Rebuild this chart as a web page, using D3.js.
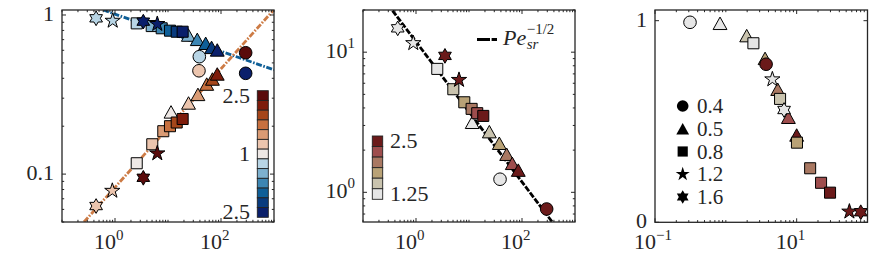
<!DOCTYPE html>
<html>
<head>
<meta charset="utf-8">
<script src="https://cdn.jsdelivr.net/npm/d3@7"></script>
<style>
  body { margin: 0; background: #fff; }
</style>
</head>
<body>
<svg id="fig" width="886" height="266"></svg>
<script>

// ---- data ----
// shape code = legend value (0.4 circle, 0.5 triangle, 0.8 square, 1.2 star, 1.6 hexagram)
// level = colour-bar step

// left panel, upper (blue) set
var leftBlueX     = [24.2, 35.7, 51.4, 66.4, 85, 39, 292, 2.57, 4.93, 7.6, 10.9, 14.6, 18.9, 0.905, 6.28, 0.44, 3.42];
var leftBlueY     = [0.748, 0.703, 0.664, 0.626, 0.603, 0.547, 0.43, 0.886, 0.852, 0.825, 0.797, 0.785, 0.785, 0.92, 0.878, 0.953, 0.908];
var leftBlueShape = [0.5, 0.5, 0.5, 0.5, 0.5, 0.4, 0.4, 0.8, 0.8, 0.8, 0.8, 0.8, 0.8, 1.2, 1.2, 1.6, 1.6];
var leftBlueLevel = [2, 3, 4, 5, 6, 1, 6, 1, 2, 3, 4, 5, 6, 1, 6, 1, 6];

// left panel, lower (orange) set
var leftOrangeX     = [11.4, 24.4, 36.7, 53.8, 68.9, 85, 38.4, 292, 2.57, 5.05, 8.15, 10.9, 14.6, 18.9, 0.89, 6.28, 0.44, 3.42];
var leftOrangeY     = [0.246, 0.28, 0.317, 0.368, 0.396, 0.426, 0.446, 0.579, 0.117, 0.154, 0.186, 0.2, 0.211, 0.222, 0.0785, 0.135, 0.063, 0.0948];
var leftOrangeShape = [0.5, 0.5, 0.5, 0.5, 0.5, 0.5, 0.4, 0.4, 0.8, 0.8, 0.8, 0.8, 0.8, 0.8, 1.2, 1.2, 1.6, 1.6];
var leftOrangeLevel = [0, 1, 2, 3, 4, 5, 1, 6, 0, 1, 2, 3, 4, 5, 1, 6, 1, 6];

// fitted lines in the left panel (end points)
var blueFitX = [0.6, 1000];
var blueFitY = [1.075, 0.452];
var orangeFitX = [0.26, 1000];
var orangeFitY = [0.05, 1.082];

// left colour bar: top to bottom
var leftBarSide  = ["o", "o", "o", "o", "o", "o", "o", "b", "b", "b", "b", "b", "b"];
var leftBarLevel = [6, 5, 4, 3, 2, 1, 0, 1, 2, 3, 4, 5, 6];
var leftBarLabels = ["2.5", "1", "2.5"];
var leftBarLabelCell = [0, 6, 12];

// middle panel
var midX     = [11.5, 24.2, 37.3, 51.4, 65.6, 85.1, 38.5, 292, 2.52, 5.06, 8.15, 11.2, 14.3, 18.6, 0.889, 6.48, 0.452, 3.52];
var midY     = [3.16, 2.71, 2.24, 1.87, 1.61, 1.44, 1.24, 0.76, 7.6, 5.44, 4.39, 3.94, 3.67, 3.51, 11.6, 6.34, 14.8, 9.41];
var midShape = [0.5, 0.5, 0.5, 0.5, 0.5, 0.5, 0.4, 0.4, 0.8, 0.8, 0.8, 0.8, 0.8, 0.8, 1.2, 1.2, 1.6, 1.6];
var midLevel = [0, 1, 2, 3, 4, 5, 0, 5, 0, 1, 2, 3, 4, 5, 0, 5, 0, 5];

// Pe^-1/2 line (end points)
var peLineX = [0.36, 390];
var peLineY = [19.8, 0.6];

var midBarLevel = [5, 4, 3, 2, 1, 0];
var midBarLabels = ["2.5", "1.25"];
var midBarLabelCell = [0, 5];

// right panel
var rightX     = [0.828, 1.97, 3.58, 5.40, 7.64, 10.0, 0.312, 3.70, 2.45, 5.83, 10.1, 15.5, 22.1, 29.6, 4.54, 55.5, 6.64, 80.3];
var rightY     = [0.987, 0.926, 0.813, 0.66, 0.521, 0.433, 0.992, 0.784, 0.888, 0.612, 0.395, 0.268, 0.196, 0.147, 0.709, 0.053, 0.557, 0.05];
var rightShape = [0.5, 0.5, 0.5, 0.5, 0.5, 0.5, 0.4, 0.4, 0.8, 0.8, 0.8, 0.8, 0.8, 0.8, 1.2, 1.2, 1.6, 1.6];
var rightLevel = [0, 1, 2, 3, 4, 5, 0, 5, 0, 1, 2, 3, 4, 5, 0, 5, 0, 5];

var legendValues = [0.4, 0.5, 0.8, 1.2, 1.6];
var legendLabels = ["0.4", "0.5", "0.8", "1.2", "1.6"];

// ---- styles ----
var blues   = ["#eee8e5", "#b8d5e5", "#7db1cf", "#3d86b3", "#0f5f98", "#093b7e", "#0a1f6b"];
var oranges = ["#eee8e5", "#ecc5ae", "#da9b74", "#c7703f", "#a5461a", "#7e1c0b", "#5a0b0b"];
var browns  = ["#e6e6e6", "#c9c3ae", "#b9a276", "#a97862", "#9e4d4d", "#6b1a1a"];

var axisColor = "#262626";
var serif = "Liberation Serif";

var triangleUp = {
  draw: function (ctx, size) {
    var r = Math.sqrt(size);
    ctx.moveTo(0, -r * 0.9);
    ctx.lineTo(r, r * 0.9);
    ctx.lineTo(-r, r * 0.9);
    ctx.closePath();
  }
};
var hexagram = {
  draw: function (ctx, size) {
    var r = Math.sqrt(size), ri = r / Math.sqrt(3);
    for (var i = 0; i < 12; i++) {
      var a = Math.PI / 6 * i - Math.PI / 2;
      var rr = (i % 2) ? ri : r;
      if (i === 0) ctx.moveTo(rr * Math.cos(a), rr * Math.sin(a));
      else ctx.lineTo(rr * Math.cos(a), rr * Math.sin(a));
    }
    ctx.closePath();
  }
};

var shapeType = d3.scaleOrdinal().domain(legendValues)
  .range([d3.symbolCircle, triangleUp, d3.symbolSquare, d3.symbolStar, hexagram]);
var shapeSize = d3.scaleOrdinal().domain(legendValues)
  .range([125, 48, 122, 72, 54]);

function symbolPath(shape, scale) {
  return d3.symbol().type(shapeType(shape)).size(shapeSize(shape) * (scale || 1))();
}

var svg = d3.select("#fig");

function label(g, x, y, size, s) {
  var t = g.append("text").attr("x", x).attr("y", y)
    .attr("font-family", serif).attr("font-size", size).attr("fill", axisColor);
  if (s !== null) t.text(s);
  return t;
}

/*
 * box axes with inward ticks on all four sides
 */
function drawAxes(g, x, y, xMajor, yMajor, xLog, yLog, yText) {
  var x0 = x.range()[0], x1 = x.range()[1];
  var y0 = y.range()[0], y1 = y.range()[1];
  var major = 4, minor = 2.2;

  var xMinor = xLog ? x.ticks().filter(function (v) { return xMajor.indexOf(v) < 0; }) : [];
  var yMinor = yLog ? y.ticks().filter(function (v) { return yMajor.indexOf(v) < 0; }) : [];

  var tk = g.append("g").attr("stroke", axisColor).attr("stroke-width", 1);

  function xTick(v, len) {
    var px = x(v);
    tk.append("line").attr("x1", px).attr("x2", px).attr("y1", y0).attr("y2", y0 - len);
    tk.append("line").attr("x1", px).attr("x2", px).attr("y1", y1).attr("y2", y1 + len);
  }
  function yTick(v, len) {
    var py = y(v);
    tk.append("line").attr("y1", py).attr("y2", py).attr("x1", x0).attr("x2", x0 + len);
    tk.append("line").attr("y1", py).attr("y2", py).attr("x1", x1).attr("x2", x1 - len);
  }
  xMinor.forEach(function (v) { xTick(v, minor); });
  yMinor.forEach(function (v) { yTick(v, minor); });
  xMajor.forEach(function (v) { xTick(v, major); });
  yMajor.forEach(function (v) { yTick(v, major); });

  g.append("rect")
    .attr("x", x0).attr("y", y1)
    .attr("width", x1 - x0).attr("height", y0 - y1)
    .attr("fill", "none").attr("stroke", axisColor).attr("stroke-width", 1.3);

  // x labels: 10^k
  xMajor.forEach(function (v) {
    var e = Math.round(Math.log10(v));
    label(g, x(v) + 1, 249, 22, "10").attr("text-anchor", "end");
    label(g, x(v) + 1, 240, 15, String(e).replace("-", "\u2212"));
  });

  // y labels
  yMajor.forEach(function (v, i) {
    var t = label(g, x0 - 8, y(v) + 6, 22, null).attr("text-anchor", "end");
    if (yText) {
      t.text(yText[i]);
    } else {
      var e = Math.round(Math.log10(v));
      t.append("tspan").text("10");
      t.append("tspan").attr("dy", -10).attr("font-size", 15).text(String(e).replace("-", "\u2212"));
    }
  });
}

function clip(id, x, y) {
  svg.append("clipPath").attr("id", id).append("rect")
    .attr("x", x.range()[0]).attr("y", y.range()[1])
    .attr("width", x.range()[1] - x.range()[0])
    .attr("height", y.range()[0] - y.range()[1]);
}

function drawMarkers(g, x, y, xs, ys, shapes, levels, pal) {
  g.selectAll(null).data(xs).enter().append("path")
    .attr("transform", function (d, i) { return "translate(" + x(d) + "," + y(ys[i]) + ")"; })
    .attr("d", function (d, i) { return symbolPath(shapes[i]); })
    .attr("fill", function (d, i) { return pal[levels[i]]; })
    .attr("stroke", "#000").attr("stroke-width", 1);
}

function drawLine(g, x, y, xs, ys, color, dash, clipId) {
  var line = d3.line().x(function (d) { return x(d); }).y(function (d, i) { return y(ys[i]); });
  g.append("path").datum(xs)
    .attr("d", line)
    .attr("fill", "none").attr("stroke", color).attr("stroke-width", 2.8)
    .attr("stroke-dasharray", dash)
    .attr("clip-path", "url(#" + clipId + ")");
}

// ---------------- left panel ----------------
var xL = d3.scaleLog().domain([0.1, 1000]).range([62, 274]);
var yL = d3.scaleLog().domain([0.05, 1.075]).range([222, 10]);
var gL = svg.append("g");
clip("clipL", xL, yL);

drawLine(gL, xL, yL, blueFitX, blueFitY, "#0e5e96", "6,1.6,1.6,1.6", "clipL");
drawLine(gL, xL, yL, orangeFitX, orangeFitY, "#cd7b45", "6,1.6,1.6,1.6", "clipL");
drawMarkers(gL, xL, yL, leftBlueX, leftBlueY, leftBlueShape, leftBlueLevel, blues);
drawMarkers(gL, xL, yL, leftOrangeX, leftOrangeY, leftOrangeShape, leftOrangeLevel, oranges);

// colour bar
var barL = d3.scaleBand().domain(d3.range(leftBarLevel.length)).range([90.7, 217.3]);
gL.selectAll(null).data(leftBarLevel).enter().append("rect")
  .attr("x", 257.3).attr("width", 11)
  .attr("y", function (d, i) { return barL(i); })
  .attr("height", barL.bandwidth())
  .attr("fill", function (d, i) { return leftBarSide[i] === "o" ? oranges[d] : blues[d]; })
  .attr("stroke", "#222").attr("stroke-width", 0.9);
leftBarLabels.forEach(function (s, i) {
  label(gL, 250, barL(leftBarLabelCell[i]) + barL.bandwidth() / 2 + 7, 22, s).attr("text-anchor", "end");
});

drawAxes(gL, xL, yL, [1, 100], [0.1, 1], true, true, ["0.1", "1"]);

// ---------------- middle panel ----------------
var xM = d3.scaleLog().domain([0.1, 1000]).range([363, 575]);
var yM = d3.scaleLog().domain([0.614, 20]).range([222, 10]);
var gM = svg.append("g");
clip("clipM", xM, yM);

drawLine(gM, xM, yM, peLineX, peLineY, "#000", "6,1.6", "clipM");
drawMarkers(gM, xM, yM, midX, midY, midShape, midLevel, browns);

var barM = d3.scaleBand().domain(d3.range(midBarLevel.length)).range([136, 199.3]);
gM.selectAll(null).data(midBarLevel).enter().append("rect")
  .attr("x", 372.3).attr("width", 10.4)
  .attr("y", function (d, i) { return barM(i); })
  .attr("height", barM.bandwidth())
  .attr("fill", function (d) { return browns[d]; })
  .attr("stroke", "#222").attr("stroke-width", 0.9);
midBarLabels.forEach(function (s, i) {
  label(gM, 390, barM(midBarLabelCell[i]) + barM.bandwidth() / 2 + 6.5, 22, s);
});

// legend Pe_sr^-1/2
gM.append("line").attr("x1", 477).attr("x2", 497).attr("y1", 39.5).attr("y2", 39.5)
  .attr("stroke", "#000").attr("stroke-width", 2.8).attr("stroke-dasharray", "13,1.6");
var peText = label(gM, 503, 45, 22, "Pe").attr("font-style", "italic");
var peW = peText.node().getComputedTextLength();
label(gM, 503 + peW + 0.5, 49, 15, "sr").attr("font-style", "italic");
label(gM, 503 + peW + 0.5, 33.5, 15, "\u22121/2");

drawAxes(gM, xM, yM, [1, 100], [1, 10], true, true, null);

// ---------------- right panel ----------------
var xR = d3.scaleLog().domain([0.1, 100]).range([655, 867.5]);
var yR = d3.scaleLinear().domain([0, 1.053]).range([222.3, 10]);
var gR = svg.append("g");

drawMarkers(gR, xR, yR, rightX, rightY, rightShape, rightLevel, browns);

var legY = d3.scalePoint().domain(legendValues).range([106, 197]);
legendValues.forEach(function (v, i) {
  gR.append("path")
    .attr("transform", "translate(682.7," + legY(v) + ")")
    .attr("d", symbolPath(v, 0.85))
    .attr("fill", "#000");
  label(gR, 697, legY(v) + 7, 21, legendLabels[i]);
});

drawAxes(gR, xR, yR, [0.1, 10], [0, 1], true, false, ["0", "1"]);

</script>
</body>
</html>
